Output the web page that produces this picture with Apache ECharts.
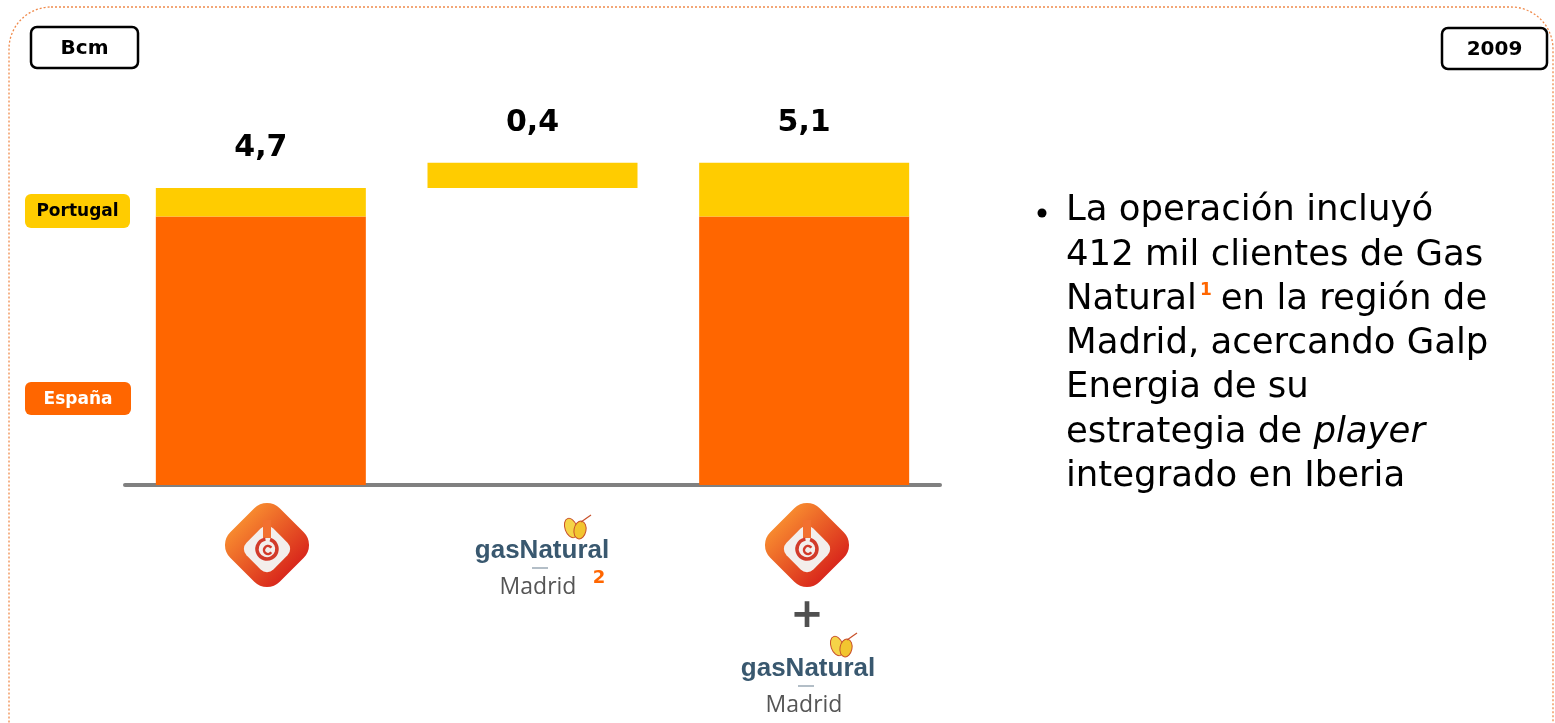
<!DOCTYPE html>
<html>
<head>
<meta charset="utf-8">
<script src="https://cdn.jsdelivr.net/npm/echarts@6/dist/echarts.min.js"></script>
<style>html,body{margin:0;padding:0;background:#fff}#c{width:1555px;height:723px}</style>
</head>
<body>
<div id="c"></div>
<script>
// ---- data ----
const categories = ['Galp', 'Gas Natural Madrid', 'Galp + Gas Natural Madrid'];
const baseOffset = [0, 4.7, 0];         // invisible offset for the floating bar
const espana = [4.25, 0, 4.25];
const portugal = [0.45, 0.4, 0.85];
const unitLabel = 'Bcm';
const yearLabel = '2009';

const ORANGE = '#FF6600', YELLOW = '#FFCC00';
const chart = echarts.init(document.getElementById('c'), null, {renderer: 'canvas'});

function total(i) { return (espana[i] + portugal[i]).toFixed(1).replace('.', ','); }

function galpLogo(cx, cy) {
  return {
    type: 'group', x: cx, y: cy, children: [
      {type: 'rect', shape: {x: -35, y: -35, width: 70, height: 70, r: 18}, rotation: Math.PI / 4,
        style: {fill: new echarts.graphic.LinearGradient(0, 0, 0, 1, [{offset: 0, color: '#F7892F'}, {offset: 1, color: '#D9281C'}])}},
      {type: 'rect', shape: {x: -19, y: -19, width: 38, height: 38, r: 9}, rotation: Math.PI / 4, y: 4,
        style: {fill: '#F3EEEC'}},
      {type: 'rect', shape: {x: -4, y: -25, width: 8, height: 18}, style: {fill: '#F27030'}},
      {type: 'arc', shape: {cx: 0, cy: 4, r: 10, startAngle: -Math.PI * 0.4, endAngle: Math.PI * 1.45}, style: {stroke: '#D23A2A', lineWidth: 3.5, fill: null}},
      {type: 'arc', shape: {cx: 1, cy: 5, r: 4, startAngle: Math.PI * 0.2, endAngle: Math.PI * 1.8}, style: {stroke: '#D23A2A', lineWidth: 2.5, fill: null}}
    ]
  };
}
function butterfly(x, y) {
  return {type: 'group', x, y, children: [
    {type: 'group', x: -5, y: 2, rotation: 0.35, children: [
      {type: 'ellipse', shape: {cx: 0, cy: 0, rx: 6, ry: 10}, style: {fill: '#F5D448', stroke: '#C8502A', lineWidth: 1}}]},
    {type: 'group', x: 4, y: 4, rotation: -0.2, children: [
      {type: 'ellipse', shape: {cx: 0, cy: 0, rx: 6, ry: 9}, style: {fill: '#F2C530', stroke: '#C8502A', lineWidth: 1}}]},
    {type: 'line', shape: {x1: 5, y1: -4, x2: 15, y2: -11}, style: {stroke: '#C8502A', lineWidth: 1.2}}
  ]};
}
function gasNaturalLogo(cx, cy, withSup) {
  const children = [
    butterfly(34, -25),
    {type: 'text', style: {text: 'gasNatural', x: 0, y: 0, align: 'center', verticalAlign: 'middle',
      font: 'bold 26px "Liberation Sans", Arial, sans-serif', fill: '#39586F'}},
    {type: 'line', shape: {x1: -10, y1: 17, x2: 6, y2: 17}, style: {stroke: '#9AA8B4', lineWidth: 1.5}},
    {type: 'text', style: {text: 'Madrid', x: -4, y: 36, align: 'center', verticalAlign: 'middle',
      font: '23px "Open Sans", sans-serif', fill: '#555555'}}
  ];
  if (withSup) children.push({type: 'text', style: {text: '2', x: 57, y: 27, align: 'center', verticalAlign: 'middle',
      font: 'bold 18px "DejaVu Sans", sans-serif', fill: ORANGE}});
  return {type: 'group', x: cx, y: cy, children};
}
function labelBox(x, y, w, h, text, fill, stroke, color, fontSize) {
  return {type: 'group', children: [
    {type: 'rect', shape: {x, y, width: w, height: h, r: 6}, style: {fill, stroke: stroke || null, lineWidth: stroke ? 2.5 : 0}},
    {type: 'text', style: {text, x: x + w / 2, y: y + h / 2 + 1, align: 'center', verticalAlign: 'middle',
      font: 'bold ' + fontSize + 'px "DejaVu Sans", sans-serif', fill: color}}
  ]};
}

const textFont = '35.5px "DejaVu Sans", sans-serif';
const lineY0 = 211, lineH = 44.3, textX = 1066;
const bulletLines = [
  {text: 'La operación incluyó'},
  {text: '412 mil clientes de Gas'},
  {text: 'Natural{s|1}en la región de'},
  {text: 'Madrid, acercando Galp'},
  {text: 'Energia de su'},
  {text: 'estrategia de {i|player}'},
  {text: 'integrado en Iberia'}
];
const textEls = bulletLines.map((l, k) => ({
  type: 'text', style: {
    text: l.text, x: textX, y: lineY0 + k * lineH, verticalAlign: 'middle', font: textFont, fill: '#000',
    rich: {
      s: {fontFamily: 'DejaVu Sans', fontWeight: 'bold', fontSize: 17, fill: ORANGE, verticalAlign: 'top', padding: [0, 9, 14, 3]},
      i: {fontFamily: 'DejaVu Sans', fontStyle: 'italic', fontSize: 35.5, fill: '#000'}
    }
  }
}));
textEls.push({type: 'circle', shape: {cx: 1042, cy: 213, r: 4.5}, style: {fill: '#000'}});

const option = {
  animation: false,
  backgroundColor: '#fff',
  grid: {left: 125, right: 615, top: 106, bottom: 238, containLabel: false},
  xAxis: {
    type: 'category', data: categories,
    axisLine: {show: true, lineStyle: {color: '#808080', width: 4, cap: 'round'}},
    axisTick: {show: false}, axisLabel: {show: false}
  },
  yAxis: {type: 'value', min: 0, max: 6, show: false, splitLine: {show: false}},
  series: [
    {name: 'base', type: 'bar', stack: 's', data: baseOffset, barWidth: 210,
      itemStyle: {color: 'transparent'}, silent: true},
    {name: 'España', type: 'bar', stack: 's', data: espana, barWidth: 210, itemStyle: {color: ORANGE}},
    {name: 'Portugal', type: 'bar', stack: 's', data: portugal, barWidth: 210, itemStyle: {color: YELLOW},
      label: {show: true, position: 'top', distance: 25, color: '#000',
        fontWeight: 'bold', fontSize: 30, fontFamily: 'DejaVu Sans',
        formatter: p => total(p.dataIndex)}}
  ],
  graphic: [
    {type: 'rect', shape: {x: 9, y: 7, width: 1544, height: 780, r: 42}, z: -1,
      style: {fill: null, stroke: '#F08A4B', lineWidth: 1.3, lineDash: [2, 2]}},
    labelBox(31, 27, 107, 41, unitLabel, '#fff', '#000', '#000', 20),
    labelBox(1442, 28, 105, 41, yearLabel, '#fff', '#000', '#000', 20),
    labelBox(25, 194, 105, 34, 'Portugal', YELLOW, null, '#000', 17),
    labelBox(25, 382, 106, 33, 'España', ORANGE, null, '#fff', 17),
    galpLogo(267, 545),
    gasNaturalLogo(542, 551, true),
    galpLogo(807, 545),
    {type: 'text', style: {text: '+', x: 807, y: 617, align: 'center', verticalAlign: 'middle',
      font: 'bold 40px "DejaVu Sans", sans-serif', fill: '#505050'}},
    gasNaturalLogo(808, 669, false),
    ...textEls
  ]
};
chart.setOption(option);
</script>
</body>
</html>
